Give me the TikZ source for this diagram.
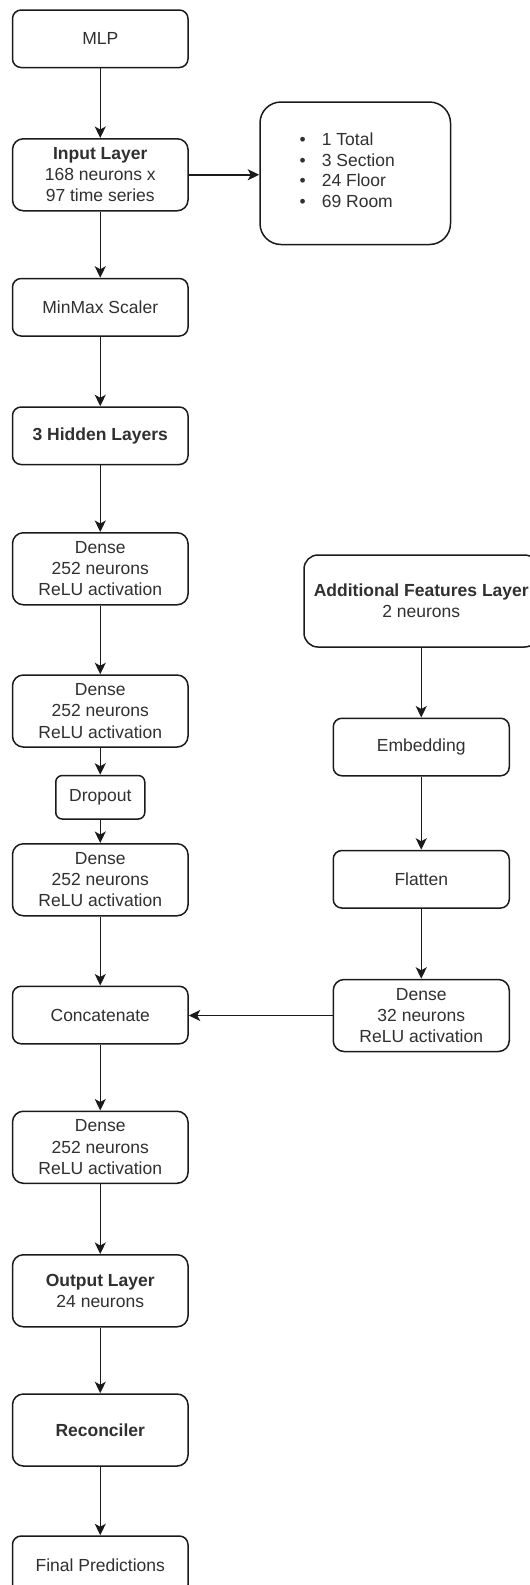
\documentclass[tikz,border=0pt]{standalone}
\usepackage{fontspec}
\setmainfont{Liberation Sans}
\usetikzlibrary{arrows.meta}
\definecolor{ink}{HTML}{1A1A1A}
\definecolor{txt}{HTML}{303030}
\begin{document}
\begin{tikzpicture}[x=1pt,y=-1pt,
  box/.style={draw=ink, line width=1.5pt, fill=white, text=txt, align=center,
    inner sep=0pt, minimum width=175.5pt, font=\fontsize{17.5}{21.3}\selectfont},
  small/.style={minimum height=57.5pt, rounded corners=8.6pt},
  tall/.style={minimum height=72pt, rounded corners=10.8pt},
  right col/.style={minimum width=176pt},
  link/.style={draw=ink, line width=1.5pt, -{Stealth[length=11.5pt,width=11pt,inset=3pt]}},
]
\useasboundingbox (0,0) rectangle (530,1585);
\clip (0,0) rectangle (530,1585);

% main column
\node[box, small] (mlp) at (100.25,38.75) {MLP};
\node[box, tall] (input) at (100.25,174.75) {\textbf{Input Layer}\\168 neurons x\\97 time series};
\node[box, small] (minmax) at (100.25,307.25) {MinMax Scaler};
\node[box, small] (hidden) at (100.25,435.75) {\textbf{3 Hidden Layers}};
\node[box, tall] (dense1) at (100.25,568.75) {Dense\\252 neurons\\ReLU activation};
\node[box, tall] (dense2) at (100.25,711) {Dense\\252 neurons\\ReLU activation};
\node[box, minimum width=89pt, minimum height=43.5pt, rounded corners=6.5pt] (dropout) at (100.25,797.25) {Dropout};
\node[box, tall] (dense3) at (100.25,879.75) {Dense\\252 neurons\\ReLU activation};
\node[box, small] (concat) at (100.25,1015) {Concatenate};
\node[box, tall] (dense4) at (100.25,1147.25) {Dense\\252 neurons\\ReLU activation};
\node[box, tall] (output) at (100.25,1290.75) {\textbf{Output Layer}\\24 neurons};
\node[box, tall] (recon) at (100.25,1430) {\textbf{Reconciler}};
\node[box, small] (final) at (100.25,1564.75) {Final Predictions};

% hierarchy levels
\node[box, minimum width=190.5pt, minimum height=142.5pt, rounded corners=21pt] (levels) at (355.25,173.25) {};
\node[anchor=west, text=txt, inner sep=0pt, font=\fontsize{17.5}{20.5}\selectfont] (levlist) at (299.5,172.5)
  {\begin{tabular}{@{}l@{\hspace{16pt}}l@{}}
   \textbullet & 1 Total\\
   \textbullet & 3 Section\\
   \textbullet & 24 Floor\\
   \textbullet & 69 Room
   \end{tabular}};

% additional features branch
\node[box, minimum width=234.5pt, minimum height=92pt, rounded corners=14pt] (addfeat) at (421.25,601) {\textbf{Additional Features Layer}\\2 neurons};
\node[box, small, right col] (embed) at (421.25,747) {Embedding};
\node[box, small, right col] (flatten) at (421.25,879.25) {Flatten};
\node[box, tall, right col] (dense32) at (421.25,1015.5) {Dense\\32 neurons\\ReLU activation};

% connectors
\draw[link] (mlp) -- (input);
\draw[link] (input.east) -- (input.east -| levels.west);
\draw[link] (input) -- (minmax);
\draw[link] (minmax) -- (hidden);
\draw[link] (hidden) -- (dense1);
\draw[link] (dense1) -- (dense2);
\draw[link] (dense2) -- (dropout);
\draw[link] (dropout) -- (dense3);
\draw[link] (dense3) -- (concat);
\draw[link] (concat) -- (dense4);
\draw[link] (dense4) -- (output);
\draw[link] (output) -- (recon);
\draw[link] (recon) -- (final);
\draw[link] (addfeat) -- (embed);
\draw[link] (embed) -- (flatten);
\draw[link] (flatten) -- (dense32);
\draw[link] (dense32.west) -- (dense32.west -| concat.east);
\end{tikzpicture}
\end{document}
